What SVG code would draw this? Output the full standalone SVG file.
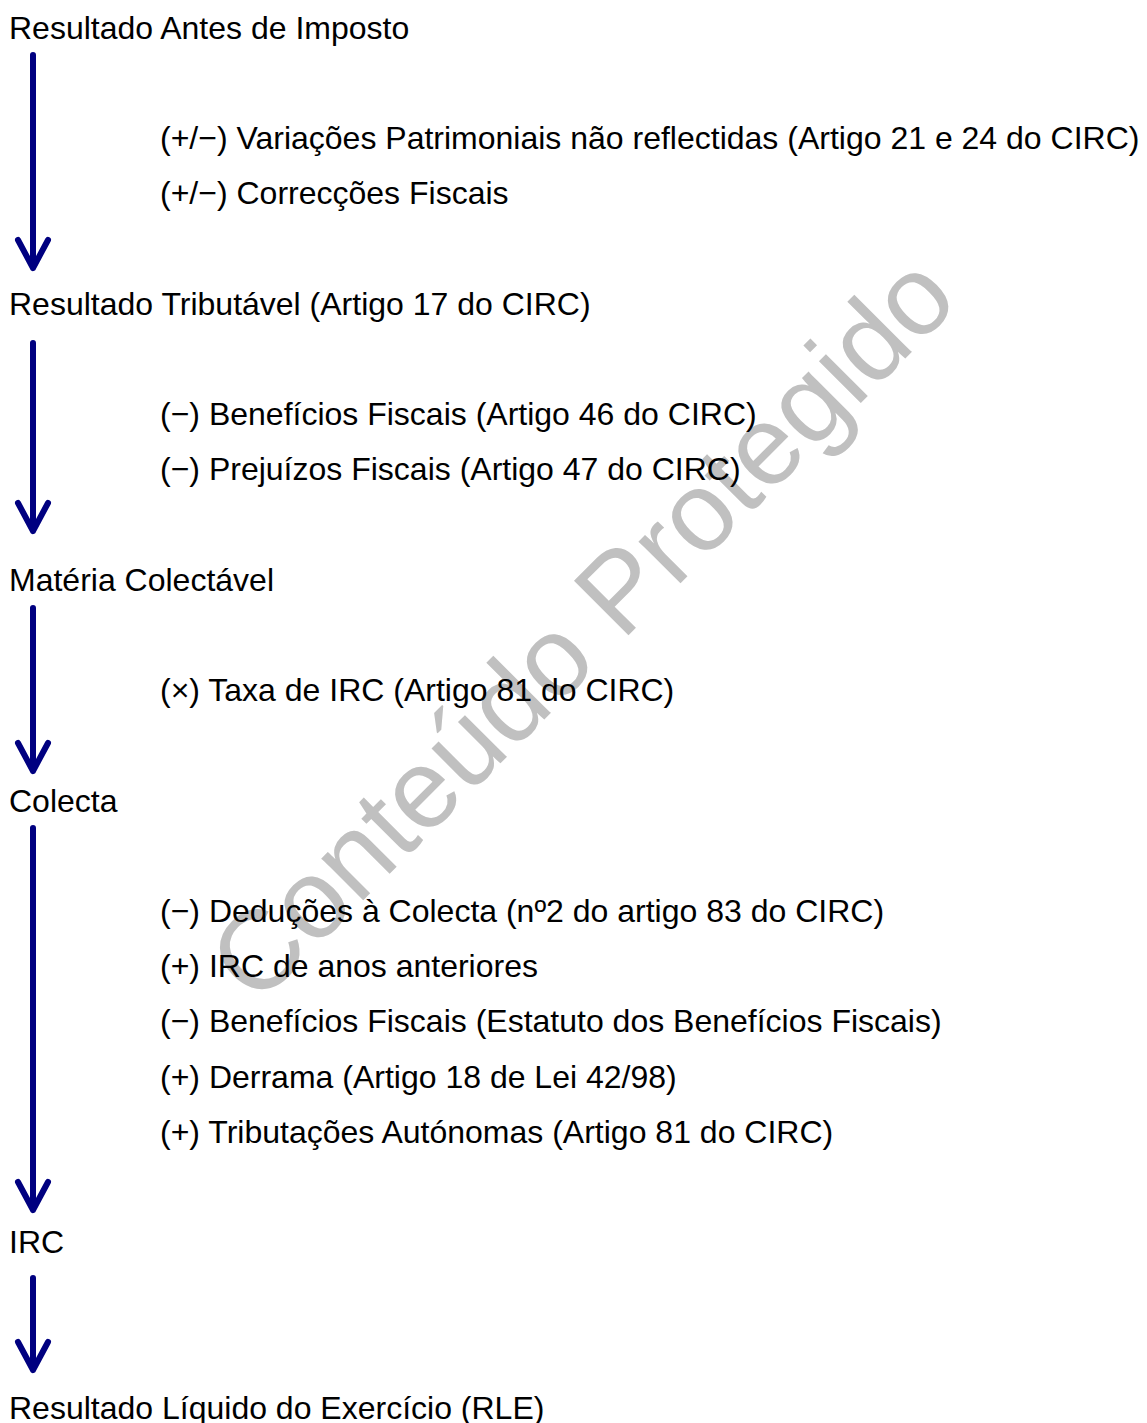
<svg xmlns="http://www.w3.org/2000/svg" width="1147" height="1423" viewBox="0 0 1147 1423">
<style>
.t{font-family:"Liberation Sans",Arial,sans-serif;font-size:32px;fill:#000}
.a{stroke:#000080;stroke-width:6;fill:none;stroke-linecap:round;stroke-linejoin:round}
.w{font-family:"Liberation Sans",Arial,sans-serif;font-size:112px;fill:#c0c0c0;text-anchor:middle}
</style>
<rect width="1147" height="1423" fill="#fff"/>
<g id="watermark"><text class="w" transform="translate(582,628) rotate(-45)" y="38">Conteúdo Protegido</text></g>
<g id="connectors">
<path class="a" d="M33 55V268M18 240L33 268L48 240"/>
<path class="a" d="M33 343V531M18 503L33 531L48 503"/>
<path class="a" d="M33 608V771M18 743L33 771L48 743"/>
<path class="a" d="M33 828V1210M18 1182L33 1210L48 1182"/>
<path class="a" d="M33 1278V1370M18 1342L33 1370L48 1342"/>
</g>
<g id="n1"><text class="t" x="9" y="38.5">Resultado Antes de Imposto</text></g>
<g id="n1a"><text class="t" x="160" y="149">(+/−) Variações Patrimoniais não reflectidas (Artigo 21 e 24 do CIRC)</text>
<text class="t" x="160" y="204">(+/−) Correcções Fiscais</text></g>
<g id="n2"><text class="t" x="9" y="314.5">Resultado Tributável (Artigo 17 do CIRC)</text></g>
<g id="n2a"><text class="t" x="160" y="425">(−) Benefícios Fiscais (Artigo 46 do CIRC)</text>
<text class="t" x="160" y="480">(−) Prejuízos Fiscais (Artigo 47 do CIRC)</text></g>
<g id="n3"><text class="t" x="9" y="590.5">Matéria Colectável</text></g>
<g id="n3a"><text class="t" x="160" y="701">(×) Taxa de IRC (Artigo 81 do CIRC)</text></g>
<g id="n4"><text class="t" x="9" y="811.5">Colecta</text></g>
<g id="n4a"><text class="t" x="160" y="922">(−) Deduções à Colecta (nº2 do artigo 83 do CIRC)</text>
<text class="t" x="160" y="977">(+) IRC de anos anteriores</text>
<text class="t" x="160" y="1032">(−) Benefícios Fiscais (Estatuto dos Benefícios Fiscais)</text>
<text class="t" x="160" y="1087.5">(+) Derrama (Artigo 18 de Lei 42/98)</text>
<text class="t" x="160" y="1142.5">(+) Tributações Autónomas (Artigo 81 do CIRC)</text></g>
<g id="n5"><text class="t" x="9" y="1253">IRC</text></g>
<g id="n6"><text class="t" x="9" y="1418.5">Resultado Líquido do Exercício (RLE)</text></g>
</svg>
